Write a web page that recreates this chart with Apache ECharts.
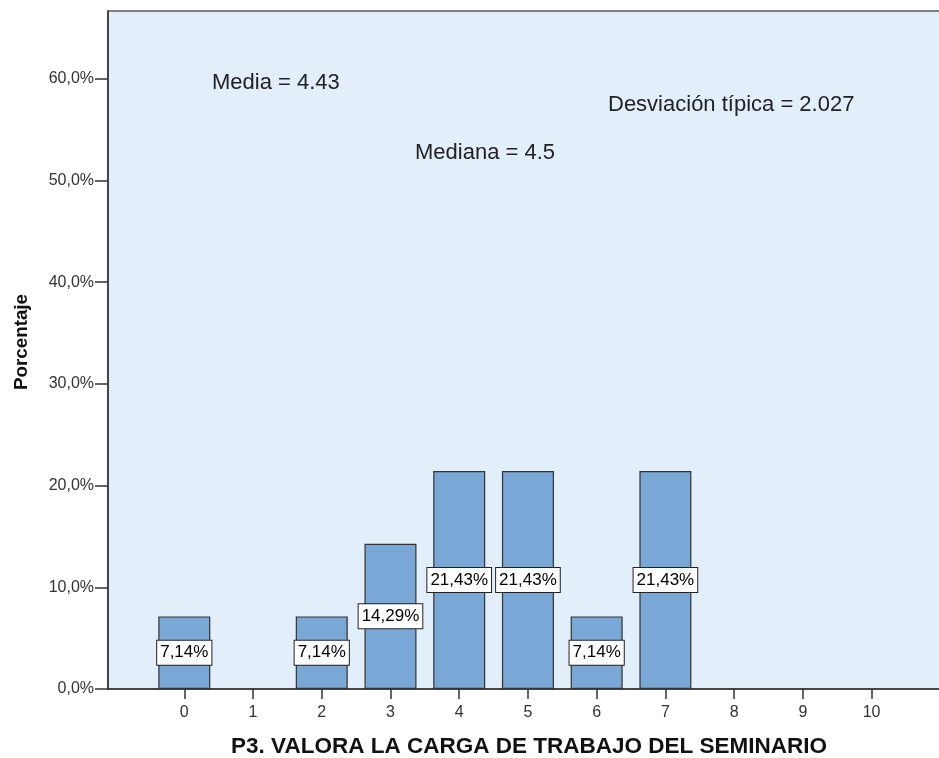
<!DOCTYPE html>
<html>
<head>
<meta charset="utf-8">
<script src="https://cdn.jsdelivr.net/npm/echarts@6/dist/echarts.min.js"></script>
<style>
html,body{margin:0;padding:0;background:#fff;}
#chart{width:939px;height:758px;}
</style>
</head>
<body>
<div id="chart"></div>
<script>
const categories = [0, 1, 2, 3, 4, 5, 6, 7, 8, 9, 10];
const percentages = [7.14, 0, 7.14, 14.29, 21.43, 21.43, 7.14, 21.43, 0, 0, 0];
const yTicks = [0, 10, 20, 30, 40, 50, 60];
const statsTexts = ['Media = 4.43', 'Mediana = 4.5', 'Desviación típica = 2.027'];
const xTitle = 'P3. VALORA LA CARGA DE TRABAJO DEL SEMINARIO';
const yTitle = 'Porcentaje';

const fmtPct = (v, d) => v.toFixed(d).replace('.', ',') + '%';
const barData = [];
categories.forEach((c, i) => { if (percentages[i] > 0) barData.push([c, percentages[i]]); });

const FONT = 'Arial, "Liberation Sans", sans-serif';
const statStyle = { fontSize: 22, fontWeight: 'normal', color: '#222', fontFamily: FONT };
const chart = echarts.init(document.getElementById('chart'));
chart.setOption({
  animation: false,
  textStyle: { fontFamily: FONT },
  title: [
    { text: statsTexts[0], left: 212, top: 72, padding: 0, textStyle: statStyle },
    { text: statsTexts[1], left: 415, top: 142, padding: 0, textStyle: statStyle },
    { text: statsTexts[2], left: 608, top: 94, padding: 0, textStyle: statStyle }
  ],
  grid: {
    left: 108, top: 11, right: -2, bottom: 69,
    outerBoundsMode: 'none', containLabel: false,
    show: true, backgroundColor: '#E2EEFA', borderColor: '#808080', borderWidth: 2
  },
  xAxis: {
    type: 'value', min: -1.11, max: 11.01,
    name: xTitle, nameLocation: 'middle', nameGap: 46,
    nameTextStyle: { fontSize: 22.5, fontWeight: 'bold', color: '#111', fontFamily: FONT, padding: [0, 0, 0, 9] },
    axisLine: { show: true, onZero: false, lineStyle: { color: '#333', width: 1.5 } },
    axisTick: { show: true, length: 10, customValues: categories, lineStyle: { color: '#333', width: 1.5 } },
    axisLabel: { customValues: categories, fontSize: 16, color: '#333', margin: 16, fontFamily: FONT },
    splitLine: { show: false }
  },
  yAxis: {
    type: 'value', min: 0, max: 66.67,
    name: yTitle, nameLocation: 'middle', nameGap: 77, nameRotate: 90,
    nameTextStyle: { fontSize: 18.8, fontWeight: 'bold', color: '#111', fontFamily: FONT, padding: [0, 0, 0, 16] },
    axisLine: { show: true, onZero: false, lineStyle: { color: '#333', width: 1.5 } },
    axisTick: { show: true, length: 13, customValues: yTicks, lineStyle: { color: '#333', width: 1.5 } },
    axisLabel: { customValues: yTicks, fontSize: 16, color: '#333', margin: 14, fontFamily: FONT, formatter: v => fmtPct(v, 1) },
    splitLine: { show: false }
  },
  series: [{
    type: 'bar',
    data: barData,
    barWidth: 52,
    itemStyle: { color: '#7AA8D6', borderColor: '#333', borderWidth: 1.2 },
    label: {
      show: true, position: 'inside',
      formatter: p => fmtPct(p.value[1], 2),
      fontSize: 17, color: '#000', fontFamily: FONT,
      backgroundColor: '#fff', borderColor: '#222', borderWidth: 1,
      padding: [4, 3, 3, 3]
    }
  }]
});
</script>
</body>
</html>
